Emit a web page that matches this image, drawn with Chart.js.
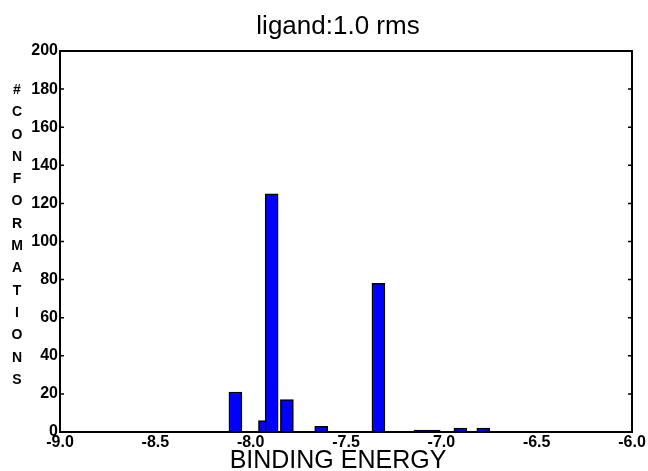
<!DOCTYPE html>
<html>
<head>
<meta charset="utf-8">
<script src="https://cdn.jsdelivr.net/npm/chart.js@4.4.0/dist/chart.umd.min.js"></script>
<style>
  html, body { margin: 0; padding: 0; background: #fff; }
  #wrap { position: relative; width: 648px; height: 471px; font-family: "Liberation Sans", Arial, sans-serif; color: #000; }
  #title { position: absolute; left: 238px; width: 200px; top: 9px; text-align: center; font-size: 26px; line-height: 32px; white-space: nowrap; }
  #xTitle { position: absolute; left: 188px; width: 300px; top: 445px; text-align: center; font-size: 25px; line-height: 28px; white-space: nowrap; }
  #yTitle {
    position: absolute; left: 0; top: 78px; width: 34px;
    font-weight: bold; font-size: 14px;
    line-height: 22.3px; text-align: center;
  }
</style>
</head>
<body>
<div id="wrap">
  <canvas id="chart" width="648" height="471"></canvas>
  <div id="title">ligand:1.0 rms</div>
  <div id="xTitle">BINDING ENERGY</div>
  <div id="yTitle"></div>
</div>
<script>
// histogram bins
const energies = [-8.08, -7.925, -7.89, -7.81, -7.63, -7.33, -7.11, -7.04, -6.90, -6.78];
const counts   = [21, 6, 125, 17, 3, 78, 1, 1, 2, 2];
const xTicks   = [-9.0, -8.5, -8.0, -7.5, -7.0, -6.5, -6.0];
const yTicks   = [0, 20, 40, 60, 80, 100, 120, 140, 160, 180, 200];
const yTitleText = "#CONFORMATIONS";

document.getElementById("yTitle").innerHTML = yTitleText.split("").join("<br>");

const FONT = "'Liberation Sans', Arial, sans-serif";

// frame on top/right + small inward tick marks on left/right axes
const framePlugin = {
  id: "frame",
  afterDraw(chart) {
    const { ctx, chartArea: a, scales } = chart;
    ctx.save();
    ctx.strokeStyle = "#000";
    ctx.lineWidth = 2;
    ctx.strokeRect(a.left, a.top, a.right - a.left, a.bottom - a.top);
    ctx.lineWidth = 1.5;
    yTicks.forEach(v => {
      const y = scales.y.getPixelForValue(v);
      ctx.beginPath();
      ctx.moveTo(a.left, y); ctx.lineTo(a.left + 4, y);
      ctx.moveTo(a.right, y); ctx.lineTo(a.right - 4, y);
      ctx.stroke();
    });
    ctx.restore();
  }
};

new Chart(document.getElementById("chart"), {
  type: "bar",
  data: {
    datasets: [{
      data: energies.map((e, i) => ({ x: e, y: counts[i] })),
      backgroundColor: "#0000ff",
      borderColor: "#000",
      borderWidth: 1.5,
      barThickness: 13
    }]
  },
  options: {
    responsive: false,
    animation: false,
    layout: { padding: { left: 0, right: 16, top: 51, bottom: 0 } },
    plugins: {
      legend: { display: false },
      tooltip: { enabled: false },
      title: { display: false }
    },
    scales: {
      x: {
        type: "linear",
        offset: false,
        min: -9, max: -6,
        afterBuildTicks: s => { s.ticks = xTicks.map(v => ({ value: v })); },
        afterFit: s => { s.height = 39; },
        grid: { display: false, drawTicks: false },
        border: { display: true, color: "#000", width: 2 },
        ticks: {
          color: "#000",
          padding: 1,
          maxRotation: 0,
          autoSkip: false,
          font: { family: FONT, size: 16, weight: "bold" },
          callback: v => Number(v).toFixed(1)
        }
      },
      y: {
        min: 0, max: 200,
        afterBuildTicks: s => { s.ticks = yTicks.map(v => ({ value: v })); },
        afterFit: s => { s.width = 60; },
        grid: { display: false, drawTicks: false },
        border: { display: true, color: "#000", width: 2 },
        ticks: {
          color: "#000",
          padding: 2,
          font: { family: FONT, size: 16, weight: "bold" }
        }
      }
    }
  },
  plugins: [framePlugin]
});
</script>
</body>
</html>
